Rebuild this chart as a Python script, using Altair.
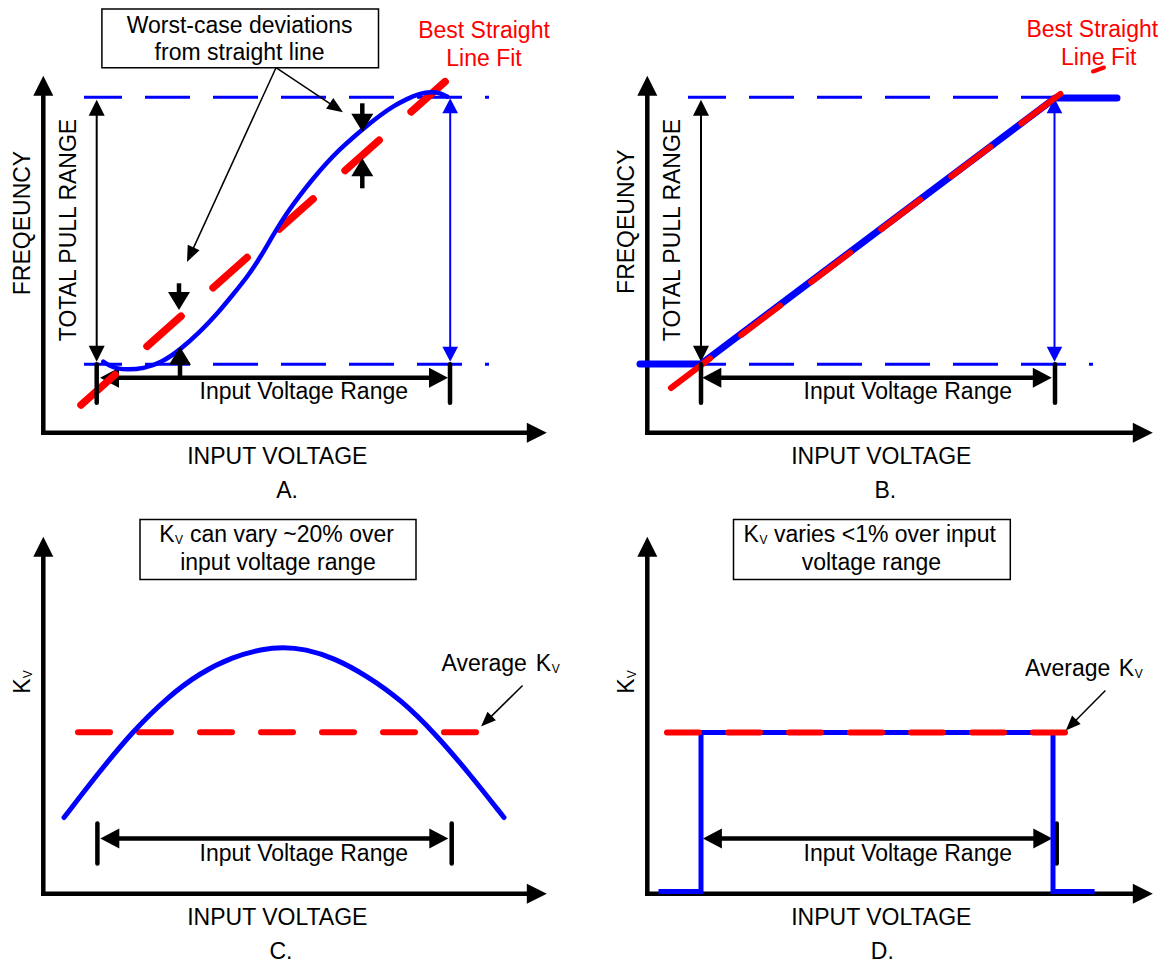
import math
import altair as alt
import pandas as pd

FONT = "Liberation Sans"
FS = 23
SUB_FS = 12
BLUE = "#0000FF"
RED = "#FF0000"
BLACK = "#000000"

# Local units in every panel: px to the right of the vertical axis (u),
# px above the horizontal axis (v).
LEFT_W, RIGHT_W = 604, 549
PANEL_H = 475.5
U0 = -35.3
TOP_V0, BOT_V0 = -50.8, -65.7

# ---------------- shared elements ----------------
axis_top = 357
axis_end_left, axis_end_right = 503.5, 505.5
range_text = (260.5, 33.3, "Input Voltage Range")
xlabel = (234, -31.5, "INPUT VOLTAGE")
panel_letters = {"A": (243.7, "A."), "B": (238, "B."), "C": (237.7, "C."), "D": (235, "D.")}
letter_v = -65.5

# ---------------- panel A ----------------
a_curve_u = [60, 66, 74, 84, 100, 118, 137, 157, 174, 190.7, 205, 218, 230, 243, 257, 270, 283, 296, 310, 323, 337, 350, 364, 376, 388, 398, 404]
a_curve_v = [71, 67, 64, 63, 64, 70, 83, 101, 119, 139.4, 157, 177, 198, 219, 238, 254.5, 269.5, 283, 295.5, 306.5, 317.5, 326.5, 334, 339, 341, 339.5, 336]
a_fit = [(37.7, 27.7, 406.7, 355.4)]
a_pull_top, a_pull_bot = 335.4, 68.4
a_dev_arrows = [(135.7, 149.4, 135.7, 122.7), (136.7, 55.0, 136.7, 86.0),
                (319.0, 329.4, 319.0, 301.0), (319.0, 244.4, 319.0, 274.4)]
a_callout_box = (58.6, 423.7, 335.2, 365.0)
a_callout_lines = [(232.7, 365.0, 299.7, 320.4), (232.7, 365.0, 143.7, 170.7)]
a_callout_text = [(196.3, 400.0, "Worst-case deviations"), (196.3, 372.7, "from straight line")]
a_fit_text = [(440.7, 394.4, "Best Straight"), (440.7, 367.0, "Line Fit")]

# ---------------- panel B ----------------
b_blue = [(-7.3, 68.7), (53.7, 68.7), (407.7, 334.7), (469.7, 334.7)]
b_fit = [(23.7, 44.7, 417.7, 342.3)]
b_fragment = [(445.7, 361.2, 456.7, 365.2)]
b_fit_text = [(445.0, 395.7, "Best Straight"), (451.5, 367.7, "Line Fit")]

# ---------------- panel C ----------------
c_curve_u = [20.7, 54.7, 88.0, 123.7, 156.7, 189.7, 218.7, 239.7, 261.7, 290.7, 323.7, 357.7, 392.0, 426.0, 460.7]
c_curve_v = [76.3, 120.3, 161.0, 196.3, 221.0, 237.0, 244.8, 246.8, 244.8, 236.0, 218.0, 194.0, 160.0, 120.3, 76.3]
c_avg = [(34.7, 161.6, 433.7, 161.6)]
c_box = (96.7, 374.3, 372.7, 314.3)
c_line1 = [(116.0, "K"), (146.7, "can vary ~20% over")]
c_line2 = (234.7, 324.0, "input voltage range")
c_avg_label = (398.2, 492.5, 222.6)
c_avg_arrow = [(479.3, 208.3, 437.7, 167.3)]

# ---------------- panel D ----------------
d_blue = [(11.2, 2.3), (53.7, 2.3), (53.7, 161.3), (405.7, 161.3), (405.7, 2.3), (447.3, 2.3)]
d_avg = [(19.7, 161.3, 418.4, 161.3)]
d_box = (86.2, 374.3, 363.0, 314.3)
d_line1 = [(96.3, "K"), (126.7, "varies <1% over input")]
d_line2 = (224.1, 324.0, "voltage range")
d_avg_label = (377.7, 471.5, 218.3)
d_avg_arrow = [(458.1, 203.3, 418.5, 163.3)]


def ang(ex, ey):
    return math.degrees(math.atan2(ex, ey)) % 360


class Panel:
    def __init__(self, w, h, v0):
        self.w, self.h = w, h
        self.xs = alt.Scale(domain=[U0, U0 + w], nice=False, zero=False)
        self.ys = alt.Scale(domain=[v0, v0 + h], nice=False, zero=False)
        self.layers = []

    def X(self):
        return alt.X("u:Q", scale=self.xs, axis=None)

    def Y(self):
        return alt.Y("v:Q", scale=self.ys, axis=None)

    def segs(self, rows, color, width, dash=None, cap="butt", offset=None):
        df = pd.DataFrame(rows, columns=["u", "v", "u2", "v2"])
        kw = dict(color=color, strokeWidth=width, strokeCap=cap)
        if dash:
            kw["strokeDash"] = dash
        if offset is not None:
            kw["strokeDashOffset"] = offset
        self.layers.append(alt.Chart(df).mark_rule(**kw).encode(
            x=self.X(), y=self.Y(), x2=alt.X2("u2"), y2=alt.Y2("v2")))

    def poly(self, pts, color, width, interp="linear", cap="round", join="round"):
        df = pd.DataFrame({"u": [p[0] for p in pts], "v": [p[1] for p in pts], "i": list(range(len(pts)))})
        self.layers.append(alt.Chart(df).mark_line(
            color=color, strokeWidth=width, interpolate=interp, strokeCap=cap, strokeJoin=join
        ).encode(x=self.X(), y=self.Y(), order="i:Q"))

    def arrows(self, rows, color, width, L, hw, cap="butt"):
        shafts, heads = [], []
        for (u1, v1, u2, v2, hs, he) in rows:
            d = math.hypot(u2 - u1, v2 - v1)
            ex, ey = (u2 - u1) / d, (v2 - v1) / d
            a1, b1, a2, b2 = u1, v1, u2, v2
            if hs:
                a1, b1 = u1 + ex * L * 0.7, v1 + ey * L * 0.7
                heads.append((u1, v1, ang(-ex, -ey)))
            if he:
                a2, b2 = u2 - ex * L * 0.7, v2 - ey * L * 0.7
                heads.append((u2, v2, ang(ex, ey)))
            shafts.append((a1, b1, a2, b2))
        self.segs(shafts, color, width, cap=cap)
        hd = pd.DataFrame(heads, columns=["u", "v", "a"])
        r = hw / L
        shape = f"M0,0L{-r:.3f},1L{r:.3f},1Z"
        self.layers.append(alt.Chart(hd).mark_point(
            shape=shape, filled=True, size=4 * L * L, color=color, opacity=1, strokeWidth=0
        ).encode(x=self.X(), y=self.Y(), angle=alt.Angle("a:Q", scale=None)))

    def text(self, rows, color=BLACK, size=FS, align="center", baseline="alphabetic", angle=0):
        df = pd.DataFrame(rows, columns=["u", "v", "t"])
        self.layers.append(alt.Chart(df).mark_text(
            font=FONT, fontSize=size, color=color, align=align, baseline=baseline, angle=angle
        ).encode(x=self.X(), y=self.Y(), text="t:N"))

    def box(self, b):
        df = pd.DataFrame([b], columns=["u", "v", "u2", "v2"])
        self.layers.append(alt.Chart(df).mark_rect(
            fill="white", stroke=BLACK, strokeWidth=1.5
        ).encode(x=self.X(), y=self.Y(), x2=alt.X2("u2"), y2=alt.Y2("v2")))

    def axes(self, xend):
        self.arrows([(0, 0, 0, axis_top, False, True), (0, 0, xend, 0, False, True)],
                    BLACK, 4.5, 20, 10, cap="square")

    def chart(self):
        return alt.layer(*self.layers).properties(width=self.w, height=self.h)


def kv_axis_label(p):
    p.text([(-13.1, 200.0, "K")], align="left", angle=270)
    p.text([(-11.3, 215.5, "V")], size=SUB_FS, align="left", angle=270)


def kv_line(p, pieces, v, sub_at):
    (k_u, k_t), (rest_u, rest_t) = pieces
    p.text([(k_u, v, k_t)], align="left")
    p.text([(sub_at, v - 2, "V")], size=SUB_FS, align="left")
    p.text([(rest_u, v, rest_t)], align="left")


def avg_label(p, lab, arrow):
    a_u, k_u, v = lab
    p.text([(a_u, v, "Average"), (k_u, v, "K")], align="left")
    p.text([(k_u + 16, v - 2, "V")], size=SUB_FS, align="left")
    p.arrows([arrow[0] + (False, True)], BLACK, 1.5, 15, 6)


def freq_panel(p, xend, pull_u, freq_v):
    p.segs([(40.7, a_pull_top, 445.7, a_pull_top), (40.7, a_pull_bot, 445.7, a_pull_bot)],
           BLUE, 3, dash=[45, 23], offset=7)
    p.arrows([(pull_u, 71, pull_u, 333, True, True)], BLACK, 2, 16, 8)
    p.arrows([(pull_u + 353.5, 71, pull_u + 353.5, 334.5, True, True)], BLUE, 2, 15, 7.8)
    p.axes(xend)
    p.text([(-13.1, freq_v, "FREQEUNCY")], align="center", angle=270)
    p.text([(pull_u - 21, 202.7, "TOTAL PULL RANGE")], align="center", angle=270)
    p.text([range_text, xlabel])


# ---------------- build A ----------------
A = Panel(LEFT_W, PANEL_H, TOP_V0)
freq_panel(A, axis_end_left, 53.4, 209.7)
A.arrows([(56.7, 55, 404.7, 55, True, True)], BLACK, 4.5, 19, 10)
A.segs(a_fit, RED, 7.5, dash=[45.5, 42.8], cap="round")
A.segs([(53.4, 68.4, 53.4, 30), (406.7, 68.4, 406.7, 30)], BLACK, 4.5, cap="round")
A.poly(list(zip(a_curve_u, a_curve_v)), BLUE, 4.5, interp="basis")
A.arrows([r + (False, True) for r in a_dev_arrows], BLACK, 4.5, 18, 11)
A.arrows([r + (False, True) for r in a_callout_lines], BLACK, 1.5, 16, 6.5)
A.box(a_callout_box)
A.text(a_callout_text)
A.text(a_fit_text, color=RED)
A.text([(panel_letters["A"][0], letter_v, panel_letters["A"][1])])

# ---------------- build B ----------------
B = Panel(RIGHT_W, PANEL_H, TOP_V0)
freq_panel(B, axis_end_right, 53.7, 211.0)
B.arrows([(55, 55, 404.5, 55, True, True)], BLACK, 4.5, 19, 10)
B.poly(b_blue, BLUE, 7)
B.segs(b_fit, RED, 6, dash=[49, 38.8], cap="round")
B.segs(b_fragment, RED, 4, cap="round")
B.segs([(53.7, 68.4, 53.7, 30), (407.7, 68.4, 407.7, 30)], BLACK, 4.5, cap="round")
B.text(b_fit_text, color=RED)
B.text([(panel_letters["B"][0], letter_v, panel_letters["B"][1])])

# ---------------- build C ----------------
C = Panel(LEFT_W, PANEL_H, BOT_V0)
C.axes(axis_end_left)
C.segs(c_avg, RED, 6, dash=[32, 29], cap="round")
C.poly(list(zip(c_curve_u, c_curve_v)), BLUE, 5, interp="basis")
C.arrows([(57, 55.3, 405, 55.3, True, True)], BLACK, 4.5, 19, 10)
C.segs([(54.1, 70.3, 54.1, 30.3), (408.4, 70.3, 408.4, 30.3)], BLACK, 4.5, cap="round")
C.box(c_box)
kv_line(C, c_line1, 351.6, c_line1[0][0] + 15.8)
C.text([c_line2])
kv_axis_label(C)
avg_label(C, c_avg_label, c_avg_arrow)
C.text([range_text, xlabel, (panel_letters["C"][0], letter_v, panel_letters["C"][1])])

# ---------------- build D ----------------
D = Panel(RIGHT_W, PANEL_H, BOT_V0)
D.arrows([(55.6, 55.3, 405, 55.3, True, True)], BLACK, 4.5, 19, 10)
D.segs([(409.4, 70.3, 409.4, 30.3)], BLACK, 4.5, cap="round")
D.axes(axis_end_right)
D.poly(d_blue, BLUE, 5, cap="butt", join="miter")
D.segs(d_avg, RED, 6, dash=[32, 29], cap="round")
D.box(d_box)
kv_line(D, d_line1, 351.6, d_line1[0][0] + 15.8)
D.text([d_line2])
kv_axis_label(D)
avg_label(D, d_avg_label, d_avg_arrow)
D.text([range_text, xlabel, (panel_letters["D"][0], letter_v, panel_letters["D"][1])])

chart = alt.concat(
    A.chart(), B.chart(), C.chart(), D.chart(),
    columns=2, spacing=0, bounds="flush", align="each"
).properties(padding=0).configure_view(stroke=None)

chart.save("out.html", embed_options={"renderer": "svg", "actions": False})
